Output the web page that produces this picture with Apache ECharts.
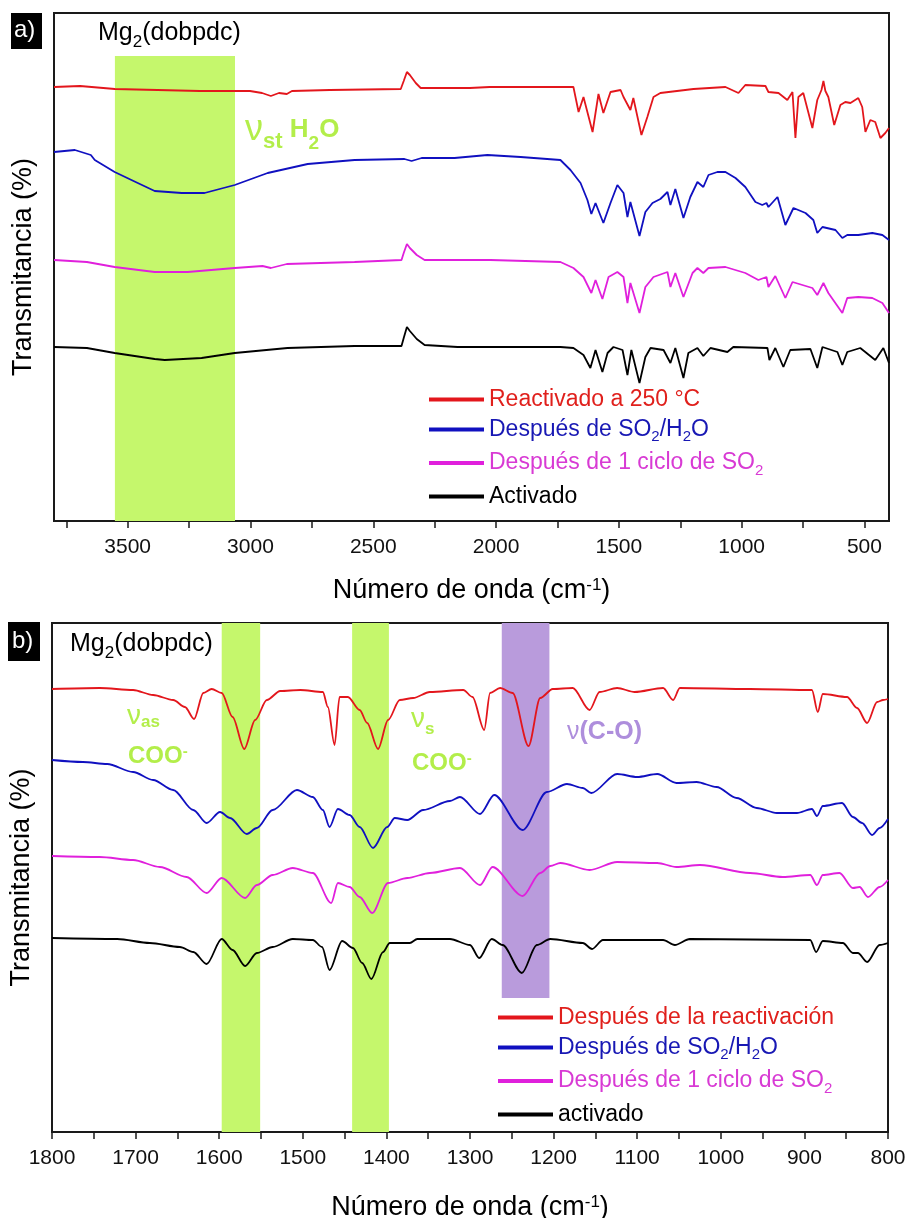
<!DOCTYPE html>
<html>
<head>
<meta charset="utf-8">
<script src="https://cdn.jsdelivr.net/npm/echarts@6/dist/echarts.min.js"></script>
<style>
  html, body { margin: 0; padding: 0; background: #fff; }
  #chart { width: 905px; height: 1218px; }
</style>
</head>
<body>
<div id="chart"></div>
<script>
// panel a) wavenumber (cm-1) vs transmittance (arbitrary offset units)
var aRed = [[3800,434],[3694,435],[3552,432],[3206,430],[3002,430],[2953,428],[2917,425],[2884,428],[2852,427],[2831,430],[2677,431],[2388,432],[2376,440],[2363,449],[2351,446],[2343,444],[2327,438],[2307,433],[2107,433],[2026,434],[1741,434],[1685,434],[1664,409],[1644,424],[1607,389],[1583,427],[1563,408],[1534,429],[1493,431],[1481,424],[1453,411],[1441,423],[1408,386],[1392,398],[1384,404],[1359,424],[1331,428],[1196,432],[1066,434],[1013,428],[985,436],[903,435],[891,429],[850,428],[814,421],[793,429],[781,383],[773,385],[769,424],[749,428],[712,393],[692,421],[675,431],[667,440],[659,430],[647,424],[623,396],[598,416],[578,419],[557,418],[525,423],[509,414],[496,389],[476,401],[456,399],[435,383],[415,388],[400,393]];
var aBlue = [[3800,369],[3715,371],[3650,366],[3634,361],[3553,349],[3459,338],[3390,330],[3280,328],[3187,328],[3064,336],[2930,348],[2767,357],[2576,361],[2373,362],[2344,360],[2303,363],[2169,363],[2035,366],[1900,364],[1738,361],[1697,351],[1656,338],[1628,321],[1612,307],[1595,318],[1563,298],[1534,318],[1506,336],[1481,328],[1465,304],[1453,319],[1416,285],[1392,309],[1363,318],[1331,322],[1302,329],[1290,316],[1270,332],[1237,303],[1209,324],[1180,339],[1156,334],[1135,346],[1099,349],[1066,349],[1025,343],[985,334],[944,319],[916,316],[899,318],[891,314],[854,324],[822,296],[789,313],[740,308],[708,301],[692,288],[671,294],[618,291],[590,283],[570,286],[525,286],[468,288],[427,286],[400,281]];
var aMag = [[3800,261],[3666,259],[3553,254],[3390,249],[3256,249],[3064,253],[2951,255],[2917,253],[2852,257],[2576,259],[2385,261],[2376,268],[2363,277],[2351,273],[2343,271],[2323,266],[2291,261],[2023,261],[1738,259],[1685,253],[1644,244],[1612,228],[1595,241],[1567,222],[1542,244],[1506,249],[1481,244],[1465,218],[1453,238],[1416,208],[1392,234],[1359,244],[1302,249],[1290,234],[1270,248],[1237,224],[1200,248],[1180,253],[1156,248],[1135,253],[1066,254],[985,248],[932,241],[899,244],[891,234],[863,245],[822,223],[793,239],[712,233],[692,226],[667,238],[647,228],[590,208],[570,223],[525,224],[468,223],[427,218],[400,208]];
var aBlack = [[3800,174],[3666,173],[3553,168],[3390,162],[3349,161],[3199,163],[3064,168],[2849,173],[2576,175],[2385,175],[2376,183],[2363,194],[2351,190],[2343,189],[2323,182],[2291,176],[2157,174],[1738,174],[1685,173],[1644,166],[1616,153],[1595,171],[1567,149],[1546,168],[1522,174],[1485,171],[1465,146],[1449,171],[1416,138],[1392,164],[1371,173],[1318,171],[1290,158],[1270,173],[1237,143],[1217,168],[1180,173],[1156,165],[1127,173],[1058,169],[1034,174],[895,173],[887,161],[863,173],[830,154],[802,171],[720,172],[692,153],[671,174],[610,169],[590,156],[570,169],[517,173],[456,161],[423,173],[400,158]];

// panel b) zoom 1800-800 cm-1
var bRed = [[1800,443],[1743,444],[1703,442],[1679,437],[1655,432],[1641,425],[1630,413],[1619,439],[1609,443],[1597,439],[1584,415],[1570,383],[1557,412],[1543,432],[1527,441],[1503,442],[1476,440],[1470,425],[1462,387],[1456,435],[1446,435],[1432,422],[1423,409],[1410,383],[1398,412],[1384,432],[1368,434],[1348,440],[1308,442],[1297,435],[1283,402],[1276,439],[1264,444],[1249,439],[1230,386],[1216,434],[1201,443],[1177,444],[1157,422],[1145,440],[1124,444],[1103,440],[1069,444],[1057,432],[1049,444],[965,443],[891,442],[884,420],[878,438],[849,435],[837,424],[825,409],[813,430],[806,432],[800,433]];
var bBlue = [[1800,372],[1763,370],[1734,368],[1703,360],[1679,352],[1655,342],[1631,322],[1615,309],[1599,320],[1587,314],[1567,298],[1555,304],[1536,322],[1507,342],[1488,335],[1476,322],[1468,305],[1458,323],[1444,317],[1432,305],[1416,284],[1399,305],[1390,314],[1375,312],[1356,322],[1324,331],[1312,335],[1288,318],[1271,337],[1237,302],[1208,340],[1184,348],[1165,344],[1155,339],[1124,358],[1100,355],[1076,358],[1053,349],[1029,350],[1005,345],[981,334],[957,324],[933,319],[909,319],[891,323],[885,316],[878,326],[855,329],[842,315],[831,309],[819,297],[810,304],[800,313]];
var bMag = [[1800,276],[1743,275],[1703,272],[1671,265],[1639,255],[1615,239],[1597,254],[1569,234],[1555,247],[1536,257],[1512,264],[1488,259],[1466,229],[1458,249],[1444,245],[1432,235],[1417,219],[1398,249],[1375,254],[1348,259],[1312,264],[1288,247],[1273,265],[1237,236],[1216,259],[1204,266],[1192,269],[1157,262],[1124,270],[1076,269],[1053,265],[1025,267],[965,259],[926,255],[893,257],[885,247],[878,257],[858,259],[842,244],[834,245],[824,235],[810,245],[800,252]];
var bBlack = [[1800,194],[1722,193],[1683,189],[1647,185],[1631,180],[1615,168],[1597,193],[1584,182],[1569,166],[1555,179],[1536,185],[1512,193],[1488,192],[1477,185],[1468,162],[1453,191],[1440,184],[1429,169],[1418,153],[1404,180],[1396,189],[1372,189],[1363,193],[1324,193],[1300,187],[1289,174],[1274,193],[1261,187],[1238,159],[1220,187],[1204,193],[1165,189],[1154,183],[1141,192],[1069,192],[1055,187],[1037,193],[893,192],[886,180],[878,191],[854,189],[842,179],[836,179],[825,170],[810,187],[800,189]];

// highlighted bands [from, to] in cm-1
var bandsA = [[3552, 3063]];
var bandsBGreen = [[1597, 1551], [1441, 1397]];
var bandsBPurple = [[1262, 1205]];

var ticksA = [3750, 3500, 3250, 3000, 2750, 2500, 2250, 2000, 1750, 1500, 1250, 1000, 750, 500];
var labelsA = [3500, 3000, 2500, 2000, 1500, 1000, 500];
var ticksB = [1800, 1750, 1700, 1650, 1600, 1550, 1500, 1450, 1400, 1350, 1300, 1250, 1200, 1150, 1100, 1050, 1000, 950, 900, 850, 800];
var labelsB = [1800, 1700, 1600, 1500, 1400, 1300, 1200, 1100, 1000, 900, 800];

var namesA = ['Reactivado a 250 °C', 'Después de SO2/H2O', 'Después de 1 ciclo de SO2', 'Activado'];
var namesB = ['Después de la reactivación', 'Después de SO2/H2O', 'Después de 1 ciclo de SO2', 'activado'];

var FONT = '"Liberation Sans", Arial, sans-serif';
var colRed = '#e3161c', colBlue = '#1010c0', colMag = '#e020dc', colBlack = '#000000';
var green = '#c5f76c', greenTxt = '#b3ee4a', purple = '#b99bdc', purpleTxt = '#ae8edc';

var chart = echarts.init(document.getElementById('chart'), null, { renderer: 'canvas' });

function legendFmt(name) {
  var k = 'k';
  if (name.indexOf('Reactivado') === 0 || name.indexOf('reactivación') > 0) k = 'r';
  else if (name.indexOf('H2O') > 0) k = 'b';
  else if (name.indexOf('ciclo') > 0) k = 'm';
  var parts = name.split('2');
  if (parts.length === 1 || k === 'r') return '{' + k + '|' + name + '}';
  var s = '';
  for (var i = 0; i < parts.length; i++) {
    if (parts[i] !== '') s += '{' + k + '|' + parts[i] + '}';
    if (i < parts.length - 1) s += '{' + k + 's|2}';
  }
  return s;
}

var legendRich = {
  r: { color: '#e0201c', fontSize: 23, fontFamily: FONT },
  b: { color: '#1818b4', fontSize: 23, fontFamily: FONT },
  m: { color: '#d83ad4', fontSize: 23, fontFamily: FONT },
  k: { color: '#000', fontSize: 23, fontFamily: FONT },
  bs: { color: '#1818b4', fontSize: 15, fontFamily: FONT, verticalAlign: 'bottom', padding: [15, 0, 0, 0] },
  ms: { color: '#d83ad4', fontSize: 15, fontFamily: FONT, verticalAlign: 'bottom', padding: [15, 0, 0, 0] }
};

function mkLegend(names, left, top, gap) {
  return {
    orient: 'vertical',
    left: left,
    top: top,
    padding: 0,
    itemGap: gap,
    itemWidth: 55,
    itemHeight: 4,
    icon: 'rect',
    data: names.map(function (n, i) {
      return { name: n, itemStyle: { color: [colRed, colBlue, colMag, colBlack][i] } };
    }),
    formatter: legendFmt,
    textStyle: { fontSize: 23, fontFamily: FONT, rich: legendRich },
    selectedMode: false
  };
}

function xAx(grid, min, max, ticks, labels) {
  return {
    type: 'value',
    gridIndex: grid,
    min: min,
    max: max,
    inverse: true,
    name: '{t|Número de onda (cm}{sup|-1}{t|)}',
    nameLocation: 'middle',
    nameGap: grid === 0 ? 56 : 62,
    nameTextStyle: {
      fontSize: 27, fontFamily: FONT, color: '#000',
      rich: {
        t: { fontSize: 27, fontFamily: FONT, color: '#000' },
        sup: { fontSize: 17, fontFamily: FONT, color: '#000', verticalAlign: 'top' }
      }
    },
    axisLine: { lineStyle: { color: '#1a1a1a', width: 2 } },
    axisTick: { show: true, inside: false, length: 7, customValues: ticks, lineStyle: { color: '#1a1a1a', width: 1.5 } },
    axisLabel: {
      customValues: labels, margin: 16, fontSize: 21, fontFamily: FONT, color: '#111',
      formatter: function (v) { return String(v); }
    },
    splitLine: { show: false }
  };
}

function yAx(grid, max) {
  return {
    type: 'value',
    gridIndex: grid,
    min: 0,
    max: max,
    name: 'Transmitancia (%)',
    nameLocation: 'middle',
    nameGap: 17,
    nameTextStyle: { fontSize: 27, fontFamily: FONT, color: '#000' },
    axisLine: { show: true, lineStyle: { color: '#1a1a1a', width: 2 } },
    axisTick: { show: false },
    axisLabel: { show: false },
    splitLine: { show: false }
  };
}

function bandData(bands, y0, y1) {
  return bands.map(function (b) {
    return [{ xAxis: b[0], yAxis: y0 }, { xAxis: b[1], yAxis: y1 }];
  });
}

function line(name, data, color, gi, smooth) {
  return {
    name: name,
    type: 'line',
    xAxisIndex: gi,
    yAxisIndex: gi,
    data: data,
    showSymbol: false,
    smooth: smooth,
    smoothMonotone: 'x',
    z: 3,
    lineStyle: { color: color, width: 1.8 },
    itemStyle: { color: color }
  };
}

// sub/superscript helpers for free texts
function subText(left, top, text, rich) {
  return { type: 'text', left: left, top: top, style: { text: text, rich: rich } };
}

var option = {
  backgroundColor: '#ffffff',
  animation: false,
  grid: [
    { left: 54, top: 13, width: 835, height: 508, show: true, borderColor: '#1a1a1a', borderWidth: 2, containLabel: false, outerBoundsMode: 'none' },
    { left: 52, top: 623, width: 836, height: 509, show: true, borderColor: '#1a1a1a', borderWidth: 2, containLabel: false, outerBoundsMode: 'none' }
  ],
  xAxis: [xAx(0, 400, 3800, ticksA, labelsA), xAx(1, 800, 1800, ticksB, labelsB)],
  yAxis: [yAx(0, 508), yAx(1, 509)],
  legend: [mkLegend(namesA, 429, 388, 7), mkLegend(namesB, 498, 1006, 7)],
  series: [
    {
      type: 'line', xAxisIndex: 0, yAxisIndex: 0, data: [], z: 1, silent: true,
      markArea: { silent: true, itemStyle: { color: green, opacity: 1 }, data: bandData(bandsA, 0, 465) }
    },
    {
      type: 'line', xAxisIndex: 1, yAxisIndex: 1, data: [], z: 1, silent: true,
      markArea: { silent: true, itemStyle: { color: green, opacity: 1 }, data: bandData(bandsBGreen, 0, 509) }
    },
    {
      type: 'line', xAxisIndex: 1, yAxisIndex: 1, data: [], z: 1, silent: true,
      markArea: { silent: true, itemStyle: { color: purple, opacity: 1 }, data: bandData(bandsBPurple, 134, 509) }
    },
    line(namesA[0], aRed, colRed, 0, false),
    line(namesA[1], aBlue, colBlue, 0, false),
    line(namesA[2], aMag, colMag, 0, false),
    line(namesA[3], aBlack, colBlack, 0, false),
    line(namesB[0], bRed, colRed, 1, 0.3),
    line(namesB[1], bBlue, colBlue, 1, 0.3),
    line(namesB[2], bMag, colMag, 1, 0.3),
    line(namesB[3], bBlack, colBlack, 1, 0.3)
  ],
  graphic: [
    { type: 'rect', left: 11, top: 13, shape: { width: 31, height: 36 }, style: { fill: '#000' } },
    { type: 'text', left: 14, top: 18, style: { text: 'a)', fill: '#fff', font: '24px ' + FONT } },
    { type: 'rect', left: 8, top: 622, shape: { width: 32, height: 39 }, style: { fill: '#000' } },
    { type: 'text', left: 12, top: 629, style: { text: 'b)', fill: '#fff', font: '24px ' + FONT } },
    subText(98, 21, '{t|Mg}{s|2}{t|(dobpdc)}', {
      t: { fontSize: 25, fontFamily: FONT, fill: '#000' },
      s: { fontSize: 17, fontFamily: FONT, fill: '#000', verticalAlign: 'bottom', padding: [17, 0, 0, 0] }
    }),
    subText(70, 632, '{t|Mg}{s|2}{t|(dobpdc)}', {
      t: { fontSize: 25, fontFamily: FONT, fill: '#000' },
      s: { fontSize: 17, fontFamily: FONT, fill: '#000', verticalAlign: 'bottom', padding: [17, 0, 0, 0] }
    }),
    subText(245, 112, '{n|ν}{s|st}{b| H}{bs|2}{b|O}', {
      n: { fontSize: 36, fontFamily: FONT, fill: greenTxt },
      s: { fontSize: 22, fontFamily: FONT, fill: greenTxt, fontWeight: 'bold', verticalAlign: 'bottom', padding: [24, 0, 0, 0] },
      b: { fontSize: 26, fontFamily: FONT, fill: greenTxt, fontWeight: 'bold' },
      bs: { fontSize: 19, fontFamily: FONT, fill: greenTxt, fontWeight: 'bold', verticalAlign: 'bottom', padding: [20, 0, 0, 0] }
    }),
    subText(127, 702, '{n|ν}{s|as}', {
      n: { fontSize: 28, fontFamily: FONT, fill: greenTxt },
      s: { fontSize: 17, fontFamily: FONT, fill: greenTxt, fontWeight: 'bold', verticalAlign: 'bottom', padding: [13, 0, 0, 0] }
    }),
    subText(128, 744, '{b|COO}{p|-}', {
      b: { fontSize: 24, fontFamily: FONT, fill: greenTxt, fontWeight: 'bold' },
      p: { fontSize: 15, fontFamily: FONT, fill: greenTxt, fontWeight: 'bold', verticalAlign: 'top' }
    }),
    subText(411, 705, '{n|ν}{s|s}', {
      n: { fontSize: 28, fontFamily: FONT, fill: greenTxt },
      s: { fontSize: 17, fontFamily: FONT, fill: greenTxt, fontWeight: 'bold', verticalAlign: 'bottom', padding: [21, 0, 0, 0] }
    }),
    subText(412, 751, '{b|COO}{p|-}', {
      b: { fontSize: 24, fontFamily: FONT, fill: greenTxt, fontWeight: 'bold' },
      p: { fontSize: 15, fontFamily: FONT, fill: greenTxt, fontWeight: 'bold', verticalAlign: 'top' }
    }),
    subText(567, 720, '{n|ν}{b|(C-O)}', {
      n: { fontSize: 25, fontFamily: FONT, fill: purpleTxt },
      b: { fontSize: 25, fontFamily: FONT, fill: purpleTxt, fontWeight: 'bold' }
    })
  ]
};

chart.setOption(option);
</script>
</body>
</html>
